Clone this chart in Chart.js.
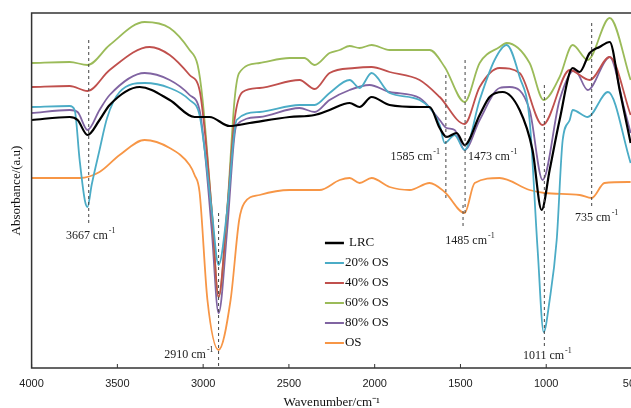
<!DOCTYPE html>
<html>
<head>
<meta charset="utf-8">
<script src="https://cdn.jsdelivr.net/npm/chart.js@4.4.1/dist/chart.umd.min.js"></script>
<style>
  html, body { margin: 0; padding: 0; background: #fff; overflow: hidden; }
  #wrap { width: 660px; height: 408px; }
</style>
</head>
<body>
<div id="wrap"><canvas id="ftir"></canvas></div>
<script>
// wavenumber (cm-1) / absorbance (a.u.)
const lrcWn  = [4000,3778,3732,3674,3604,3545,3370,3195,3050,2962,2846,2729,2496,2350,2263,2146,2088,2018,1913,1738,1680,1621,1581,1522,1476,1388,1330,1254,1155,1080,1027,980,922,846,805,747,689,630,572,508];
const lrcAbs = [248,251,248,233,248,263,281,268,251,251,242,245,251,253,258,265,261,271,263,261,261,240,231,235,223,253,271,276,258,218,158,198,248,300,296,315,321,326,278,225];

const os20Wn  = [4000,3778,3749,3720,3690,3674,3650,3604,3560,3487,3341,3195,3079,3021,2991,2950,2910,2860,2820,2805,2671,2438,2350,2263,2146,2088,2018,1913,1738,1621,1592,1534,1476,1388,1301,1231,1155,1097,1050,1015,980,939,904,863,846,758,640,508];
const os20Abs = [261,262,258,208,168,161,183,218,250,276,285,280,268,253,218,158,103,158,233,248,256,263,263,275,288,280,295,275,268,243,225,233,218,268,308,323,291,248,118,36,68,128,228,248,258,251,276,205];

const os40Wn  = [4000,3778,3674,3545,3312,3195,3079,3021,2991,2950,2910,2860,2817,2770,2671,2438,2350,2263,2117,2018,1913,1738,1621,1476,1388,1272,1155,1021,863,747,630,508];
const os40Abs = [281,282,277,298,321,313,293,278,238,158,71,158,248,276,280,288,279,295,300,301,296,288,271,244,281,300,295,243,298,288,311,253];

const os60Wn  = [4000,3778,3674,3545,3341,3195,3079,3032,3003,2950,2910,2860,2817,2790,2671,2496,2410,2350,2263,2204,2146,2088,2018,1913,1680,1592,1476,1388,1272,1231,1097,1015,922,846,758,630,508];
const os60Abs = [305,306,303,323,346,340,318,303,268,158,71,158,268,295,305,310,310,303,315,318,322,320,323,318,318,301,266,305,321,325,305,268,291,323,308,350,288];

const os80Wn  = [4000,3778,3732,3674,3604,3545,3341,3195,3079,3021,2991,2950,2910,2860,2820,2805,2671,2438,2350,2263,2146,2030,1913,1738,1621,1581,1534,1476,1388,1272,1213,1097,1021,922,834,758,630,543,508];
const os80Abs = [255,258,256,238,258,273,295,288,273,258,218,138,55,138,228,243,251,260,256,268,278,283,276,270,248,240,238,218,248,280,281,258,188,268,298,278,311,258,235];

const osWn  = [4000,3720,3604,3487,3341,3195,3079,3050,3021,2975,2910,2840,2790,2760,2671,2496,2321,2204,2146,2088,2018,1913,1796,1680,1592,1476,1417,1272,1097,1009,805,735,660,508];
const osAbs = [190,190,196,213,228,220,203,193,176,68,18,68,148,165,173,178,178,188,190,185,190,181,178,185,176,155,185,190,178,175,173,170,185,186];

const seriesNames = ['LRC', '20% OS', '40% OS', '60% OS', '80% OS', 'OS'];
const xTicks = [4000, 3500, 3000, 2500, 2000, 1500, 1000, 500];

const peakWn     = [3667, 2910, 1585, 1473, 1485, 1011, 735];
const peakLabels = ['3667', '2910', '1585', '1473', '1485', '1011', '735'];

// where each dashed marker runs and where its label sits (y in axis units)
const peakMarks = [
  { top: 328, bottom: 143, labelY: 132, align: 'center', dx: 2 },
  { top: 155, bottom: 0,   labelY: 13,  align: 'right',  dx: -5 },
  { top: 293, bottom: 168, labelY: 211, align: 'right',  dx: -6 },
  { top: 308, bottom: 153, labelY: 211, align: 'left',   dx: 3 },
  { top: 163, bottom: 140, labelY: 127, align: 'center', dx: 7 },
  { top: 283, bottom: 21,  labelY: 12,  align: 'center', dx: 3 },
  { top: 345, bottom: 161, labelY: 150, align: 'center', dx: 5 }
];

const colors = ['#000000', '#4bacc6', '#c0504d', '#9bbb59', '#8064a2', '#f79646'];
const widths = [2.2, 1.8, 1.8, 1.8, 1.8, 1.8];

function toPoints(wn, abs) {
  return wn.map((w, i) => ({ x: w, y: abs[i] }));
}

const allSeries = [
  toPoints(lrcWn, lrcAbs),
  toPoints(os20Wn, os20Abs),
  toPoints(os40Wn, os40Abs),
  toPoints(os60Wn, os60Abs),
  toPoints(os80Wn, os80Abs),
  toPoints(osWn, osAbs)
];

const serif = '"Liberation Serif", "Times New Roman", serif';

// box round the plot + short inward ticks
const frame = {
  id: 'frame',
  afterDraw(chart) {
    const { ctx, chartArea: a, scales } = chart;
    ctx.save();
    ctx.strokeStyle = '#333';
    ctx.lineWidth = 1.5;
    ctx.strokeRect(a.left, a.top, a.right - a.left, a.bottom - a.top);
    ctx.lineWidth = 1;
    xTicks.forEach(t => {
      const px = scales.x.getPixelForValue(t);
      ctx.beginPath();
      ctx.moveTo(px, a.bottom);
      ctx.lineTo(px, a.bottom - 4);
      ctx.stroke();
    });
    ctx.restore();
  }
};

function cmLabel(ctx, num, x, y, align) {
  const main = num + ' cm';
  ctx.font = '12px ' + serif;
  const w1 = ctx.measureText(main).width;
  ctx.font = '8px ' + serif;
  const w2 = ctx.measureText('-1').width;
  const total = w1 + w2 + 1;
  let x0 = x;
  if (align === 'center') x0 = x - total / 2;
  if (align === 'right') x0 = x - total;
  ctx.textAlign = 'left';
  ctx.textBaseline = 'middle';
  ctx.font = '12px ' + serif;
  ctx.fillText(main, x0, y);
  ctx.font = '8px ' + serif;
  ctx.fillText('-1', x0 + w1 + 1, y - 5);
}

const peaks = {
  id: 'peaks',
  afterDatasetsDraw(chart) {
    const { ctx, scales } = chart;
    ctx.save();
    ctx.strokeStyle = '#444';
    ctx.fillStyle = '#222';
    ctx.lineWidth = 1;
    ctx.setLineDash([3, 3]);
    peakWn.forEach((w, i) => {
      const m = peakMarks[i];
      const px = scales.x.getPixelForValue(w);
      ctx.beginPath();
      ctx.moveTo(px, scales.y.getPixelForValue(m.top));
      ctx.lineTo(px, scales.y.getPixelForValue(m.bottom));
      ctx.stroke();
    });
    ctx.setLineDash([]);
    peakWn.forEach((w, i) => {
      const m = peakMarks[i];
      const px = scales.x.getPixelForValue(w);
      cmLabel(ctx, peakLabels[i], px + m.dx, scales.y.getPixelForValue(m.labelY), m.align);
    });
    ctx.restore();
  }
};

const innerLegend = {
  id: 'innerLegend',
  afterDraw(chart) {
    const { ctx, scales } = chart;
    const x0 = scales.x.getPixelForValue(2290);
    const y0 = scales.y.getPixelForValue(125);
    ctx.save();
    ctx.font = '13px ' + serif;
    ctx.textBaseline = 'middle';
    ctx.fillStyle = '#111';
    chart.data.datasets.forEach((ds, i) => {
      const y = y0 + i * 20;
      ctx.strokeStyle = ds.borderColor;
      ctx.lineWidth = i === 0 ? 2.5 : 2;
      ctx.beginPath();
      ctx.moveTo(x0, y);
      ctx.lineTo(x0 + 19, y);
      ctx.stroke();
      ctx.fillText(ds.label, x0 + (i === 0 ? 24 : 20), y);
    });
    ctx.restore();
  }
};

new Chart(document.getElementById('ftir'), {
  type: 'line',
  data: {
    datasets: allSeries.map((pts, i) => ({
      label: seriesNames[i],
      data: pts,
      borderColor: colors[i],
      borderWidth: widths[i],
      pointRadius: 0,
      fill: false,
      cubicInterpolationMode: 'monotone'
    }))
  },
  options: {
    responsive: true,
    maintainAspectRatio: false,
    animation: false,
    layout: { padding: { left: 9, right: 28, top: 13, bottom: 0 } },
    plugins: {
      legend: { display: false },
      tooltip: { enabled: false }
    },
    scales: {
      x: {
        type: 'linear',
        reverse: true,
        min: 500,
        max: 4000,
        afterBuildTicks: s => { s.ticks = xTicks.map(v => ({ value: v })); },
        afterFit: s => { s.height = 40; },
        grid: { display: false, drawTicks: false },
        border: { display: false },
        ticks: {
          color: '#222',
          font: { size: 11, family: '"Liberation Sans", Arial, sans-serif' },
          padding: 9,
          maxRotation: 0,
          callback: v => String(v)
        },
        title: { display: true, text: 'Wavenumber/cm⁻¹', color: '#111', font: { size: 13, family: serif }, padding: { top: 0, bottom: -2 } }
      },
      y: {
        min: 0,
        max: 355,
        grid: { display: false, drawTicks: false },
        border: { display: false },
        ticks: { display: false },
        title: { display: true, text: 'Absorbance/(a.u)', color: '#111', font: { size: 13, family: serif }, padding: { top: 0, bottom: 7 } }
      }
    }
  },
  plugins: [frame, peaks, innerLegend]
});
</script>
</body>
</html>
